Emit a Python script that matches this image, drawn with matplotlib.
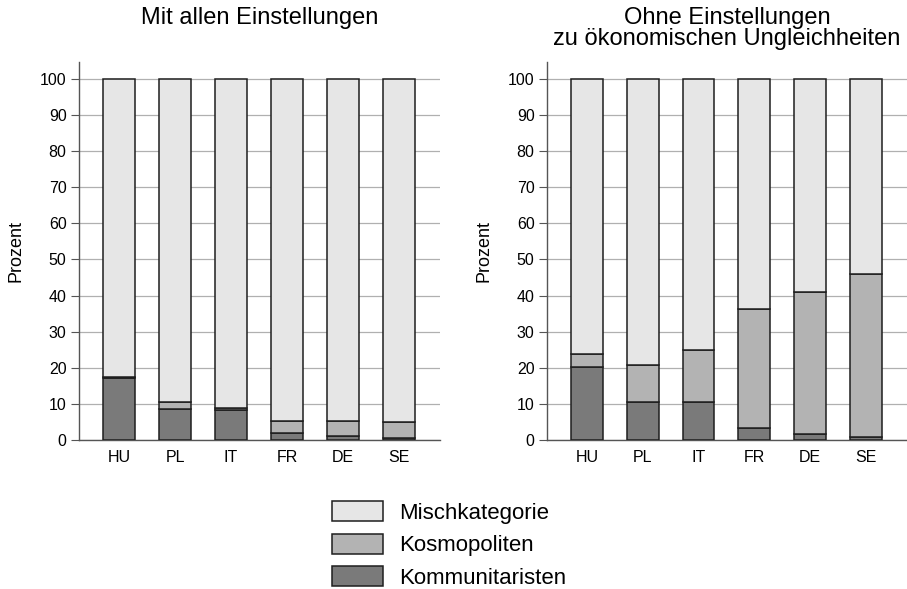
import matplotlib
matplotlib.use("Agg")
import matplotlib.pyplot as plt
from matplotlib.patches import Patch
import numpy as np

countries = ["HU", "PL", "IT", "FR", "DE", "SE"]
# Left panel: Mit allen Einstellungen
komm_all = [17.2, 8.7, 8.3, 2.0, 1.2, 0.6]
kosmo_all = [0.3, 1.8, 0.5, 3.3, 4.1, 4.4]
# Right panel: Ohne Einstellungen zu ökonomischen Ungleichheiten
komm_wo = [20.2, 10.6, 10.6, 3.4, 1.8, 0.9]
kosmo_wo = [3.6, 10.2, 14.2, 32.8, 39.1, 45.1]

titles = ["Mit allen Einstellungen",
          "Ohne Einstellungen\nzu ökonomischen Ungleichheiten"]
legend_labels = ["Mischkategorie", "Kosmopoliten", "Kommunitaristen"]
c_misch, c_kosmo, c_komm = "#e6e6e6", "#b3b3b3", "#7a7a7a"

plt.rcParams['font.family'] = ['Liberation Sans', 'DejaVu Sans']

W, H = 907, 589
fig = plt.figure(figsize=(W/100, H/100), dpi=100)
ax1 = fig.add_axes([79/W, 1-440/H, 361/W, 378/H])
ax2 = fig.add_axes([547/W, 1-440/H, 360/W, 378/H])

x = np.arange(len(countries))
for ax, komm, kosmo, title in [(ax1, komm_all, kosmo_all, titles[0]),
                               (ax2, komm_wo, kosmo_wo, titles[1])]:
    komm = np.array(komm); kosmo = np.array(kosmo)
    misch = 100 - komm - kosmo
    kw = dict(width=0.57, edgecolor="#1e1e1e", linewidth=1.1, zorder=3)
    ax.bar(x, komm, color=c_komm, **kw)
    ax.bar(x, kosmo, bottom=komm, color=c_kosmo, **kw)
    ax.bar(x, misch, bottom=komm + kosmo, color=c_misch, **kw)
    ax.set_xlim(-0.72, 5.74)
    ax.set_ylim(0, 104.7)
    ax.set_yticks(range(0, 101, 10))
    ax.set_xticks(x)
    ax.set_xticklabels(countries, fontsize=11.5)
    ax.tick_params(axis='y', labelsize=11.5, length=6, color="#555555", pad=3)
    ax.tick_params(axis='x', length=0, pad=7)
    ax.yaxis.grid(True, color="#b0b0b0", linewidth=0.9, zorder=0)
    ax.set_axisbelow(True)
    for s in ["top", "right"]:
        ax.spines[s].set_visible(False)
    for s in ["left", "bottom"]:
        ax.spines[s].set_color("#555555")
        ax.spines[s].set_linewidth(1.0)
    ax.set_ylabel("Prozent", fontsize=13, labelpad=11)
    pos = ax.get_position()
    fig.text((pos.x0 + pos.x1) / 2, 1 - 7/H, title, ha="center", va="top",
             fontsize=17, linespacing=0.93)

handles = [Patch(facecolor=c, edgecolor="#1e1e1e", linewidth=1.1)
           for c in [c_misch, c_kosmo, c_komm]]
fig.legend(handles, legend_labels, loc="center", bbox_to_anchor=(449/W, 1-545/H),
           frameon=False, fontsize=16, handlelength=2.3, handleheight=1.0,
           labelspacing=0.45, handletextpad=0.7, borderpad=0.2)

fig.savefig("out.png", dpi=100)
